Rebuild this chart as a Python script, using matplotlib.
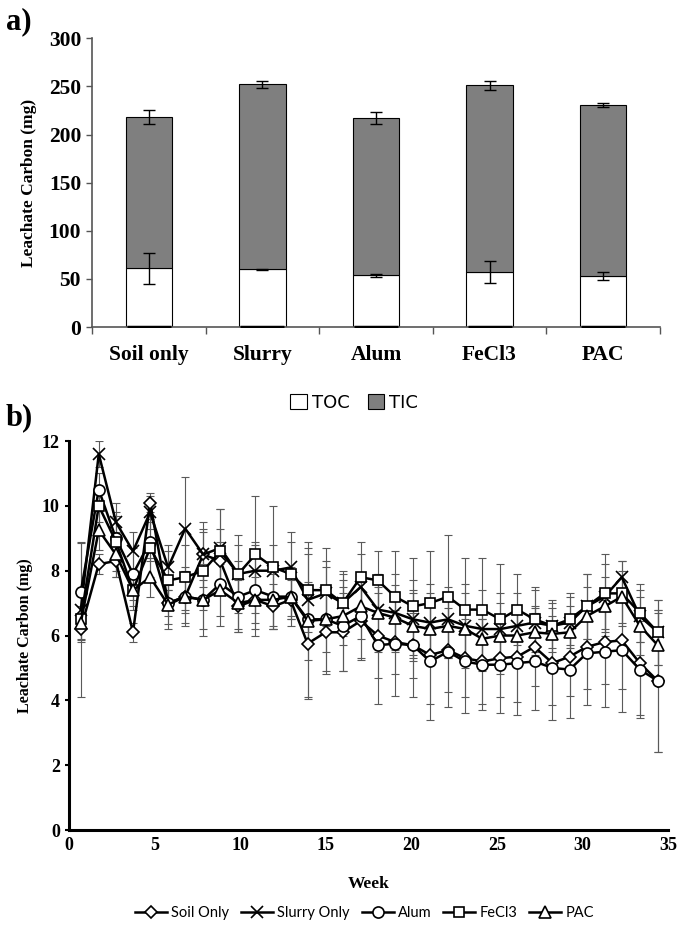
import matplotlib
matplotlib.use("Agg")
import matplotlib.pyplot as plt
from matplotlib.lines import Line2D
from matplotlib.patches import Patch

# ---------------- Panel a data ----------------
treatments = ["Soil only", "Slurry", "Alum", "FeCl3", "PAC"]
toc = [61, 60, 54, 57, 53]
toc_err = [16, 0.5, 1.5, 11.5, 4]
tic = [157, 192, 163, 194, 178]
total_err = [7, 4, 6, 5, 2]

# ---------------- Panel b data ----------------
weeks = [0.7, 1.75, 2.75, 3.75, 4.75, 5.8, 6.8, 7.85, 8.85, 9.9, 10.9, 11.95,
         12.95, 13.95, 15.0, 16.0, 17.05, 18.05, 19.05, 20.1, 21.1, 22.15,
         23.15, 24.15, 25.2, 26.2, 27.2, 28.25, 29.25, 30.25, 31.3, 32.3,
         33.35, 34.4]
soil_only = [6.2, 8.2, 8.3, 6.1, 10.1, 7.0, 7.2, 8.5, 8.3, 6.9, 7.1, 6.9,
             7.1, 5.75, 6.1, 6.1, 6.45, 6.0, 5.8, 5.7, 5.4, 5.55, 5.3, 5.2,
             5.3, 5.35, 5.65, 5.15, 5.35, 5.65, 5.8, 5.85, 5.15, 4.6]
soil_err = [0.4, 0.3, 0.5, 0.3, 0.3, 0.4, 0.5, 0.8, 1.0, 0.8, 0.7, 0.7,
            0.6, 1.7, 1.3, 1.2, 1.2, 1.3, 1.0, 1.0, 1.5, 1.3, 1.2, 1.3,
            1.2, 1.4, 1.2, 1.3, 1.2, 1.3, 1.3, 1.5, 1.6, 2.2]
slurry_only = [6.8, 11.6, 9.5, 8.6, 9.8, 8.1, 9.3, 8.5, 8.7, 7.9, 8.0, 8.0,
               8.1, 7.1, 7.3, 7.0, 7.5, 6.8, 6.7, 6.5, 6.4, 6.5, 6.3, 6.2,
               6.2, 6.3, 6.4, 6.3, 6.4, 6.9, 7.2, 7.8, 6.6, 6.1]
slurry_err = [0.6, 0.4, 0.6, 0.6, 0.5, 0.7, 1.6, 1.0, 1.2, 0.9, 0.9, 0.8,
              0.8, 1.4, 1.0, 0.9, 1.0, 1.1, 1.2, 1.2, 1.2, 1.0, 1.3, 1.2,
              1.1, 1.0, 1.0, 0.8, 0.8, 1.0, 1.0, 0.5, 0.8, 1.0]
alum = [7.35, 10.5, 9.0, 7.9, 8.9, 7.0, 7.2, 7.1, 7.6, 7.2, 7.4, 7.2,
        7.2, 6.5, 6.5, 6.3, 6.6, 5.7, 5.75, 5.7, 5.2, 5.5, 5.2, 5.1,
        5.1, 5.15, 5.2, 5.0, 4.95, 5.45, 5.5, 5.55, 4.95, 4.6]
alum_err = [1.5, 0.5, 0.7, 0.8, 0.6, 0.8, 0.9, 1.1, 1.3, 1.1, 1.4, 1.0,
            0.9, 2.4, 1.6, 1.4, 1.3, 1.8, 1.6, 1.6, 1.8, 1.7, 1.6, 1.4,
            1.5, 1.6, 1.5, 1.6, 1.5, 1.6, 1.7, 1.9, 1.5, 2.2]
fecl3 = [6.5, 10.0, 8.9, 7.4, 8.7, 7.7, 7.8, 8.0, 8.6, 7.9, 8.5, 8.1,
         7.9, 7.4, 7.4, 7.0, 7.8, 7.7, 7.2, 6.9, 7.0, 7.2, 6.8, 6.8,
         6.5, 6.8, 6.5, 6.3, 6.5, 6.9, 7.3, 7.3, 6.7, 6.1]
fecl3_err = [2.4, 0.5, 0.9, 0.6, 0.9, 0.9, 1.0, 1.2, 1.3, 1.2, 1.8, 1.9,
             1.3, 1.3, 1.3, 1.0, 1.1, 0.9, 1.4, 1.5, 1.6, 1.9, 1.6, 1.6,
             1.7, 1.1, 1.0, 0.7, 0.8, 1.0, 1.2, 1.0, 0.9, 1.0]
pac = [6.4, 9.25, 8.5, 7.4, 7.8, 6.95, 7.2, 7.1, 7.4, 7.0, 7.1, 7.1,
       7.2, 6.45, 6.5, 6.6, 6.9, 6.7, 6.55, 6.3, 6.2, 6.3, 6.2, 5.9,
       6.0, 6.0, 6.1, 6.05, 6.1, 6.6, 6.9, 7.2, 6.3, 5.7]
pac_err = [0.5, 0.6, 0.7, 0.5, 0.6, 0.6, 0.8, 0.9, 0.8, 0.8, 0.9, 0.8,
           0.7, 1.2, 1.0, 0.9, 1.0, 1.2, 1.0, 1.1, 1.1, 1.0, 1.1, 1.0,
           1.0, 0.9, 0.8, 0.8, 0.8, 0.9, 0.9, 0.8, 0.9, 1.0]

series = [
    ("Soil Only", soil_only, soil_err, "D", 6),
    ("Slurry Only", slurry_only, slurry_err, "x", 8),
    ("Alum", alum, alum_err, "o", 8),
    ("FeCl3", fecl3, fecl3_err, "s", 7.5),
    ("PAC", pac, pac_err, "^", 8),
]

serif = ["Liberation Serif", "DejaVu Serif"]

fig = plt.figure(figsize=(6.88, 9.32), dpi=100)

# ================= Panel a =================
axa = fig.add_axes([0.134, 0.649, 0.825, 0.310])
xs = list(range(len(treatments)))
axa.bar(xs, toc, width=0.41, color="white", edgecolor="black", linewidth=0.8, zorder=2)
axa.bar(xs, tic, width=0.41, bottom=toc, color="#7f7f7f", edgecolor="black",
        linewidth=0.8, zorder=2)
axa.errorbar(xs, toc, yerr=toc_err, fmt="none", ecolor="black", elinewidth=1.0,
             capsize=4, capthick=1.0, zorder=3)
totals = [a + b for a, b in zip(toc, tic)]
axa.errorbar(xs, totals, yerr=total_err, fmt="none", ecolor="black", elinewidth=1.0,
             capsize=4, capthick=1.0, zorder=3)
axa.plot(xs, [0] * len(xs), linestyle="none", marker="_", markersize=32,
         markeredgewidth=2.5, color="black", zorder=4)
axa.set_xlim(-0.5, len(treatments) - 0.5)
axa.set_ylim(0, 300)
axa.set_yticks([0, 50, 100, 150, 200, 250, 300])
axa.set_xticks(xs)
axa.set_xticklabels(treatments)
axa.set_xticks([x - 0.5 for x in range(len(treatments) + 1)], minor=True)
axa.tick_params(axis="x", which="major", length=0, pad=13)
axa.tick_params(axis="x", which="minor", length=5, width=1, color="#555555", direction="out")
axa.tick_params(axis="y", length=4, width=1, color="#555555", direction="out", pad=4)
for lab in axa.get_xticklabels() + axa.get_yticklabels():
    lab.set_fontfamily(serif)
    lab.set_fontweight("bold")
    lab.set_fontsize(15.5)
axa.set_ylabel("Leachate Carbon (mg)", fontfamily=serif, fontweight="bold",
               fontsize=12.5, labelpad=8)
for s in ["top", "right"]:
    axa.spines[s].set_visible(False)
for s in ["left", "bottom"]:
    axa.spines[s].set_color("#555555")
    axa.spines[s].set_linewidth(1.2)

handles_a = [Patch(facecolor="white", edgecolor="black", linewidth=0.8, label="TOC"),
             Patch(facecolor="#7f7f7f", edgecolor="black", linewidth=0.8, label="TIC")]
fig.legend(handles=handles_a, loc="center", bbox_to_anchor=(0.515, 1 - 403 / 932),
           ncol=2, frameon=False, handlelength=0.9, handleheight=0.9,
           handletextpad=0.3, columnspacing=1.0,
           prop={"family": ["Liberation Sans Narrow", "DejaVu Sans"], "size": 13})

fig.text(0.008, 1 - 22 / 932, "a)", fontfamily=serif, fontweight="bold",
         fontsize=22, va="center", ha="left")
fig.text(0.008, 1 - 418 / 932, "b)", fontfamily=serif, fontweight="bold",
         fontsize=22, va="center", ha="left")

# ================= Panel b =================
axb = fig.add_axes([0.100, 0.1094, 0.871, 0.4174])
for name, vals, err, mk, ms in series:
    axb.errorbar(weeks, vals, yerr=err, fmt="none", ecolor="#5a5a5a",
                 elinewidth=0.8, capsize=3, capthick=0.8, zorder=2)
for name, vals, err, mk, ms in series:
    axb.plot(weeks, vals, color="black", linewidth=1.8, marker=mk,
             markersize=ms, markerfacecolor="white" if mk != "x" else "black",
             markeredgecolor="black", markeredgewidth=1.2, zorder=3, label=name)
axb.set_xlim(0, 35)
axb.set_ylim(0, 12)
axb.set_xticks([0, 5, 10, 15, 20, 25, 30, 35])
axb.set_yticks([0, 2, 4, 6, 8, 10, 12])
axb.tick_params(axis="x", length=0, pad=5)
axb.tick_params(axis="y", length=3, width=1.5, direction="out")
for lab in axb.get_xticklabels() + axb.get_yticklabels():
    lab.set_fontfamily(serif)
    lab.set_fontweight("bold")
    lab.set_fontsize(13)
axb.set_xlabel("Week", fontfamily=serif, fontweight="bold", fontsize=12.5, labelpad=16)
axb.set_ylabel("Leachate Carbon (mg)", fontfamily=serif, fontweight="bold",
               fontsize=11.5, labelpad=6)
for s in ["top", "right"]:
    axb.spines[s].set_visible(False)
for s in ["left", "bottom"]:
    axb.spines[s].set_color("black")
    axb.spines[s].set_linewidth(2.2)

handles_b = [Line2D([0], [0], color="black", linewidth=1.8, marker=mk, markersize=ms,
                    markerfacecolor="white" if mk != "x" else "black",
                    markeredgecolor="black", markeredgewidth=1.2, label=name)
             for name, vals, err, mk, ms in series]
fig.legend(handles=handles_b, loc="center", bbox_to_anchor=(0.53, 1 - 913 / 932),
           ncol=5, frameon=False, handlelength=2.2, handletextpad=0.3,
           columnspacing=0.8, prop={"family": ["Lato", "DejaVu Sans"], "size": 10.5})

fig.savefig("out.png", dpi=100)
